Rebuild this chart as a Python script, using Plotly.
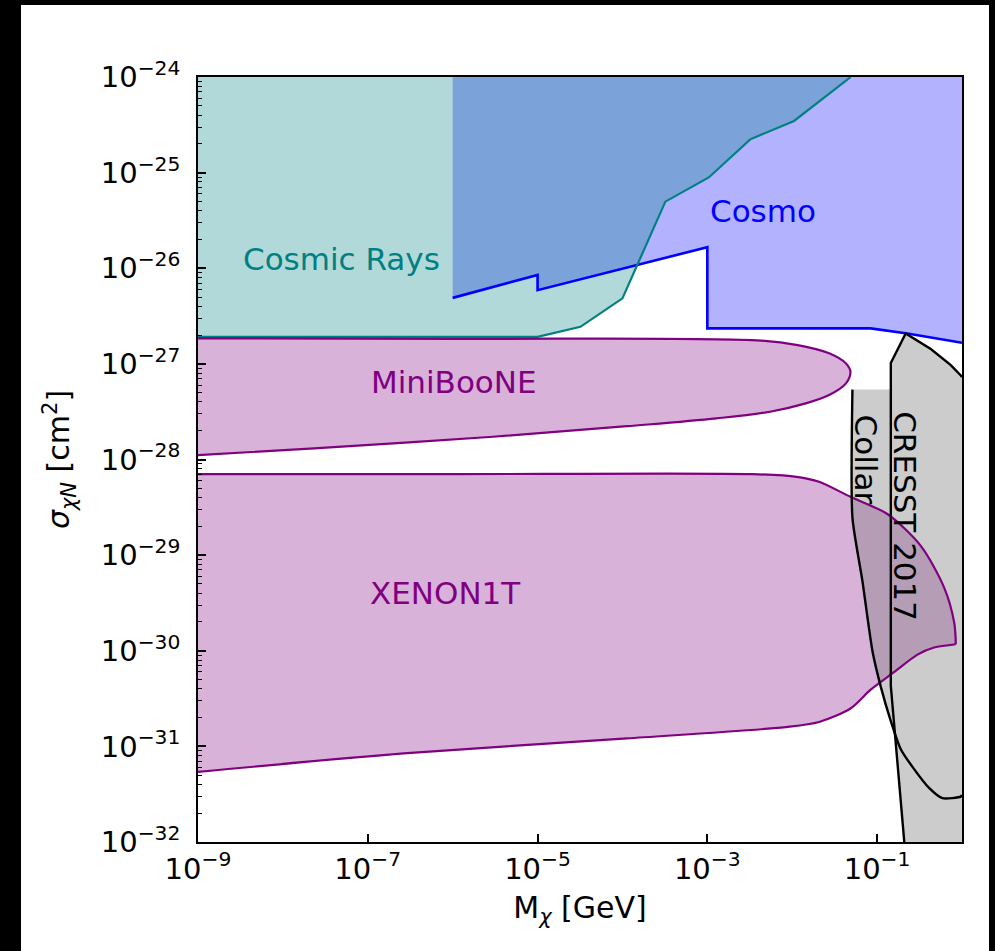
import plotly.graph_objects as go

# ---- axis limits ----
mass_range = [1e-9, 1.0]          # GeV
sigma_range = [1e-32, 1e-24]      # cm^2
x_tick_exponents = [-9, -7, -5, -3, -1]
y_tick_exponents = [-24, -25, -26, -27, -28, -29, -30, -31, -32]

# ---- Cosmic-ray bound (excluded above) ----
cr_mass = [1e-9, 1e-5, 3.2e-5, 1e-4, 3.2e-4, 1.04e-3, 3.2e-3, 1.05e-2, 4.9e-2]
cr_sigma = [1.92e-27, 1.92e-27, 2.44e-27, 4.84e-27, 4.97e-26, 8.9e-26, 2.23e-25, 3.47e-25, 1e-24]

# ---- Cosmology bound (excluded above) ----
cosmo_mass = [1e-6, 1e-5, 1e-5, 1e-3, 1e-3, 8.4e-2, 0.227, 1.0]
cosmo_sigma = [4.9e-27, 8.5e-27, 5.9e-27, 1.66e-26, 2.35e-27, 2.35e-27, 2.08e-27, 1.66e-27]

# ---- MiniBooNE excluded island ----
mb_mass = [1e-9, 1e-6, 4.3e-3, 1.16e-2, 2.72e-2, 4.3e-2, 4.85e-2, 4.3e-2, 2.72e-2, 1.44e-2,
           5.47e-3, 1.28e-3, 1.13e-4, 2.98e-6, 2.33e-8, 1e-9]
mb_sigma = [1.85e-27, 1.83e-27, 1.75e-27, 1.57e-27, 1.29e-27, 1.01e-27, 8.26e-28, 6.25e-28,
            4.72e-28, 3.86e-28, 3.16e-28, 2.69e-28, 2.23e-28, 1.73e-28, 1.31e-28, 1.11e-28]

# ---- XENON1T excluded island ----
xe_mass = [1e-9, 1e-6, 3.37e-3, 1.13e-2, 2.07e-2, 4.85e-2, 0.132, 0.327, 0.618, 0.811, 0.845,
           0.469, 0.299, 0.158, 8.4e-2, 4.85e-2, 2.07e-2, 8.9e-3, 1.13e-4, 2.64e-7, 1e-9]
xe_sigma = [7.03e-29, 7.03e-29, 7.03e-29, 6.59e-29, 5.85e-29, 4.07e-29, 2.69e-29, 1.25e-29,
            4.55e-30, 1.95e-30, 1.17e-30, 1.08e-30, 9.12e-31, 5.97e-31, 3.92e-31, 2.49e-31,
            1.80e-31, 1.6e-31, 1.21e-31, 8.43e-32, 5.41e-32]
xe_tip = 10   # index of the pointed right-hand tip

# ---- CRESST 2017 and Collar boundaries ----
cresst_mass = [1.0, 0.968, 0.738, 0.429, 0.217, 0.145, 0.145, 0.209]
cresst_sigma = [7.28e-28, 7.57e-28, 9.7e-28, 1.43e-27, 2.08e-27, 1.02e-27, 4.3e-31, 1e-32]
collar_mass = [5.12e-2, 5.12e-2, 6.71e-2, 8.81e-2, 0.110, 0.145, 0.190, 0.261, 0.409,
               0.589, 0.968, 1.0]
collar_sigma = [5.38e-28, 2.47e-29, 5.38e-30, 9.93e-31, 4.27e-31, 1.84e-31, 9.35e-32,
                6.11e-32, 3.68e-32, 2.87e-32, 2.98e-32, 3.11e-32]
crossing_mass, crossing_sigma = 0.163, 1.31e-31   # where the two curves cross

FONT = "DejaVu Sans"
TEAL, BLUE, PURPLE = "#008080", "#0000ff", "#800080"

fig = go.Figure()


def region(xs, ys, fill, shape="linear", smoothing=1.0):
    fig.add_trace(go.Scatter(x=xs, y=ys, mode="lines", fill="toself", fillcolor=fill,
                             line=dict(width=0, color="rgba(0,0,0,0)", shape=shape,
                                       smoothing=smoothing),
                             hoverinfo="skip", showlegend=False))


def edge(xs, ys, color, width=2.2, shape="linear", smoothing=1.0):
    fig.add_trace(go.Scatter(x=xs, y=ys, mode="lines",
                             line=dict(color=color, width=width, shape=shape,
                                       smoothing=smoothing),
                             hoverinfo="skip", showlegend=False))


top, bottom = sigma_range[1], sigma_range[0]
left, right = mass_range

# Cosmology: everything above the blue curve
region([cosmo_mass[0]] + cosmo_mass + [right], [top] + cosmo_sigma + [top],
       "rgba(0,0,255,0.3)")
# Cosmic rays: everything above the teal curve
region([left] + cr_mass, [top] + cr_sigma, "rgba(0,128,128,0.3)")
# Direct-detection islands
region(mb_mass, mb_sigma, "rgba(128,0,128,0.3)", "spline", 1.0)
region(xe_mass, xe_sigma, "rgba(128,0,128,0.3)", "spline", 0.8)
# Union of the Collar and CRESST 2017 exclusions
gray_mass = ([collar_mass[0], cresst_mass[5]] + cresst_mass[5::-1]
             + [right, cresst_mass[-1], crossing_mass] + collar_mass[5::-1])
gray_sigma = ([collar_sigma[0], collar_sigma[0]] + cresst_sigma[5::-1]
              + [bottom, bottom, crossing_sigma] + collar_sigma[5::-1])
region(gray_mass, gray_sigma, "rgba(128,128,128,0.4)")

# Boundary curves
edge(cosmo_mass, cosmo_sigma, BLUE, 2.6)
edge(cr_mass, cr_sigma, TEAL, 2.2)
edge(mb_mass, mb_sigma, PURPLE, 2.2, "spline", 1.0)
edge(xe_mass[:xe_tip + 1], xe_sigma[:xe_tip + 1], PURPLE, 2.2, "spline", 0.8)
edge(xe_mass[xe_tip:], xe_sigma[xe_tip:], PURPLE, 2.2, "spline", 0.8)
edge(collar_mass, collar_sigma, "black", 2.4, "spline", 0.6)
edge(cresst_mass, cresst_sigma, "black", 2.4)

# Region labels (positions in log10 units)
labels = [
    ("Cosmic Rays", -7.31, -25.90, TEAL, 0),
    ("Cosmo", -2.35, -25.40, BLUE, 0),
    ("MiniBooNE", -5.99, -27.19, PURPLE, 0),
    ("XENON1T", -6.09, -29.40, PURPLE, 0),
    ("Collar", -1.12, -28.00, "black", 90),
    ("CRESST 2017", -0.675, -28.59, "black", 90),
]
for text, lx, ly, col, ang in labels:
    fig.add_annotation(x=lx, y=ly, xref="x", yref="y", text=text, showarrow=False,
                       textangle=ang, font=dict(family=FONT, size=31, color=col))

W, H = 995, 951
ml, mr, mt, mb = 198, 33, 77, 109
pw, ph = W - ml - mr, H - mt - mb


def px_to_paper(px, py):
    return (px - ml) / pw, (H - mb - py) / ph


# white page on a black frame
x0, y0 = px_to_paper(21, 951)
x1, y1 = px_to_paper(989, 5)
fig.add_shape(type="rect", xref="paper", yref="paper", x0=x0, y0=y0, x1=x1, y1=y1,
              fillcolor="white", line=dict(width=0), layer="below")

minor_y = [m * 10.0 ** e for e in range(-32, -24) for m in range(2, 10)]

axis_common = dict(type="log", showgrid=False, zeroline=False, showline=True,
                   linecolor="black", linewidth=1.5, mirror=True, ticks="inside",
                   ticklen=8, tickwidth=1.5, tickcolor="black",
                   tickfont=dict(family=FONT, size=29, color="black"))

fig.update_layout(
    width=W, height=H, autosize=False,
    margin=dict(l=ml, r=mr, t=mt, b=mb),
    paper_bgcolor="black", plot_bgcolor="white",
    font=dict(family=FONT, color="black"),
    xaxis=dict(**axis_common,
               range=[-9, 0],
               tickvals=[10.0 ** e for e in x_tick_exponents],
               ticktext=[f"10<sup>−{-e}</sup>" for e in x_tick_exponents],
               title=dict(text="M<sub><i>χ</i></sub> [GeV]",
                          font=dict(family=FONT, size=30, color="black"), standoff=12)),
    yaxis=dict(**axis_common,
               range=[-32, -24],
               tickvals=[10.0 ** e for e in y_tick_exponents],
               ticktext=[f"10<sup>−{-e}</sup>" for e in y_tick_exponents],
               ticklabelstandoff=10,
               minor=dict(ticks="inside", ticklen=4, tickwidth=1.2, tickcolor="black",
                          tickvals=minor_y, showgrid=False),
               title=dict(text="<i>σ</i><sub><i>χN</i></sub> [cm<sup>2</sup>]",
                          font=dict(family=FONT, size=30, color="black"), standoff=22)),
)

fig.write_html("out.html")
